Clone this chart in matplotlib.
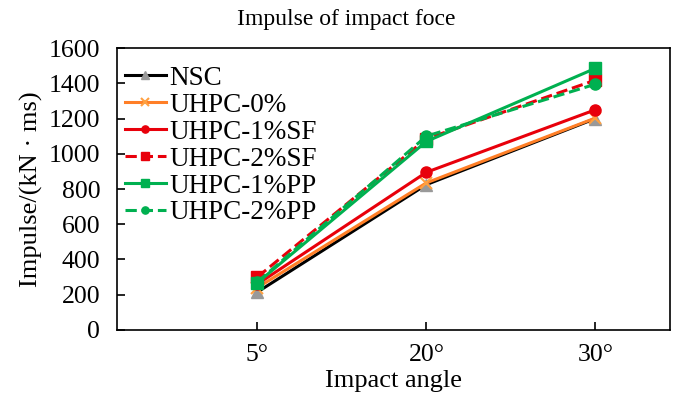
import matplotlib
matplotlib.use("Agg")
import matplotlib.pyplot as plt
import numpy as np

angles = ["5°", "20°", "30°"]
nsc = [215, 825, 1200]
uhpc_0 = [240, 835, 1203]
uhpc_1sf = [260, 895, 1250]
uhpc_2sf = [300, 1085, 1418]
uhpc_1pp = [268, 1070, 1485]
uhpc_2pp = [272, 1100, 1395]

plt.rcParams['font.family'] = ['Liberation Serif', 'DejaVu Serif']

fig = plt.figure(figsize=(6.78, 3.97), dpi=100)
ax = fig.add_axes([0.1726, 0.1688, 0.8154, 0.7102])

x = np.arange(len(angles))
lw = 2.2
series = [
    (nsc, 'NSC', dict(color='black', ls='-', marker='^', mfc='#999999', mec='#999999', ms=8)),
    (uhpc_0, 'UHPC-0%', dict(color='#ff7f27', ls='-', marker='x', mfc='#ffa040', mec='#ffa040', ms=8, mew=1.5)),
    (uhpc_1sf, 'UHPC-1%SF', dict(color='#e8000b', ls='-', marker='o', mfc='#e8000b', mec='#e8000b', ms=8)),
    (uhpc_2sf, 'UHPC-2%SF', dict(color='#e8000b', ls='--', marker='s', mfc='#e8000b', mec='#e8000b', ms=8)),
    (uhpc_1pp, 'UHPC-1%PP', dict(color='#00b050', ls='-', marker='s', mfc='#00b050', mec='#00b050', ms=8)),
    (uhpc_2pp, 'UHPC-2%PP', dict(color='#00b050', ls='--', marker='o', mfc='#00b050', mec='#00b050', ms=8)),
]
for vals, lbl, st in series:
    ax.plot(x, vals, lw=lw, label=lbl, **st)

ax.set_xlim(-0.83, 2.44)
ax.set_ylim(0, 1600)
ax.set_yticks(np.arange(0, 1601, 200))
ax.set_xticks(x)
ax.set_xticklabels(angles)
ax.tick_params(direction='in', labelsize=18.5, length=6, width=1.2)
ax.tick_params(axis='y', pad=12)
ax.tick_params(axis='x', pad=10)
for s in ax.spines.values():
    s.set_linewidth(1.2)

ax.set_xlabel('Impact angle', fontsize=19, labelpad=3)
ax.set_ylabel('Impulse/(kN · ms)', fontsize=19, labelpad=4)
fig.text(346 / 678, 1 - 19 / 397, 'Impulse of impact foce', fontsize=17,
         ha='center', va='center')

ax.legend(loc='upper left', bbox_to_anchor=(-0.005, 0.975), frameon=False,
          fontsize=19.5, handlelength=1.5, handletextpad=0.12, labelspacing=0.07,
          borderaxespad=0, markerscale=0.65)

fig.savefig('out.png', dpi=100, facecolor='white')
